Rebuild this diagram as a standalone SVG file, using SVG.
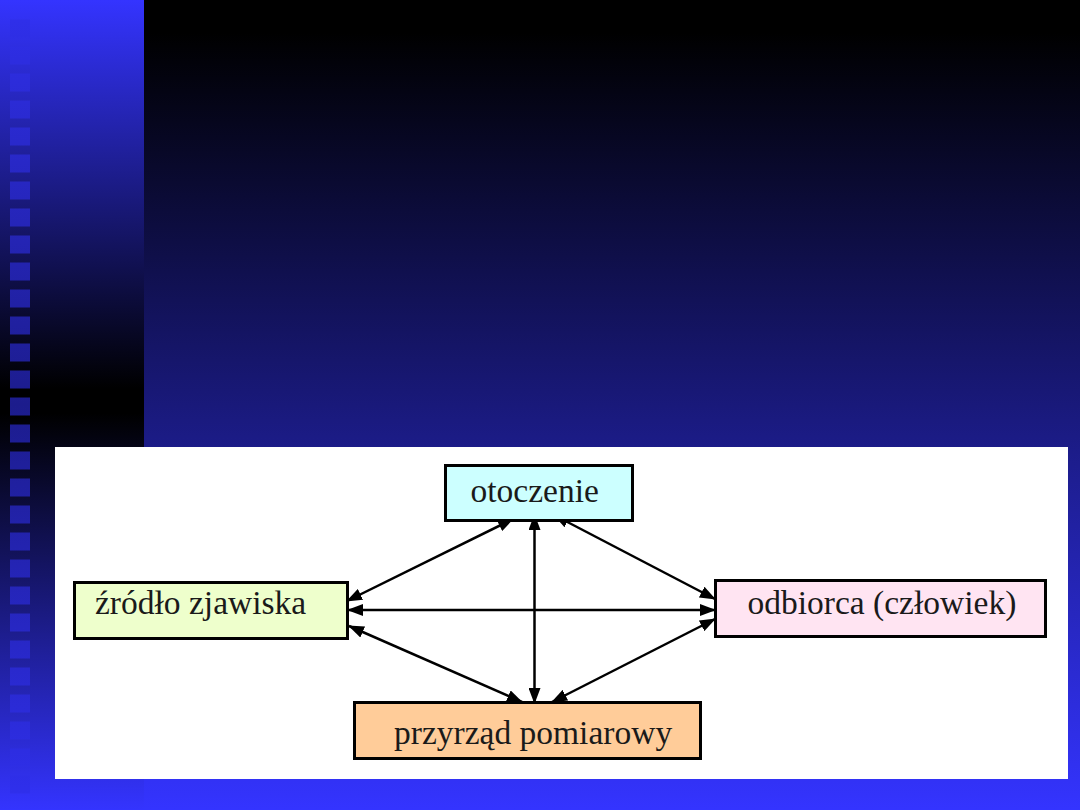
<svg xmlns="http://www.w3.org/2000/svg" width="1080" height="810" viewBox="0 0 1080 810">
  <defs>
    <linearGradient id="gMain" gradientUnits="userSpaceOnUse" x1="0" y1="0" x2="0" y2="810">
      <stop offset="0" stop-color="#000000"/>
      <stop offset="0.04" stop-color="#000000"/>
      <stop offset="1" stop-color="#3434ff"/>
    </linearGradient>
    <linearGradient id="gStrip" gradientUnits="userSpaceOnUse" x1="0" y1="0" x2="0" y2="810">
      <stop offset="0" stop-color="#3434ff"/>
      <stop offset="0.48" stop-color="#000000"/>
      <stop offset="0.51" stop-color="#000000"/>
      <stop offset="1" stop-color="#3434ff"/>
    </linearGradient>
    <linearGradient id="gSq" gradientUnits="userSpaceOnUse" x1="0" y1="0" x2="0" y2="810">
      <stop offset="0" stop-color="#3030ee"/>
      <stop offset="0.5" stop-color="#1c1c8c"/>
      <stop offset="1" stop-color="#3030f0"/>
    </linearGradient>
    <marker id="ah" markerUnits="userSpaceOnUse" viewBox="0 0 16 12" markerWidth="16" markerHeight="12" refX="15" refY="6" orient="auto-start-reverse">
      <path d="M0,0 L16,6 L0,12 z" fill="#000"/>
    </marker>
  </defs>
  <style>
    .box { stroke: #000; stroke-width: 3; }
    .sq { fill: url(#gSq); }
    .lbl { font-family: "Liberation Serif", "Times New Roman", serif; font-size: 33.5px; fill: #1a1a1a; }
    .con line { stroke: #000; stroke-width: 2.5; marker-start: url(#ah); marker-end: url(#ah); }
  </style>

  <!-- background -->
  <rect x="0" y="0" width="1080" height="810" fill="url(#gMain)"/>
  <rect x="0" y="0" width="144" height="810" fill="url(#gStrip)"/>
  <g id="squares">
    <rect class="sq" x="10" y="19.5" width="20" height="18"/>
    <rect class="sq" x="10" y="46.5" width="20" height="18"/>
    <rect class="sq" x="10" y="73.5" width="20" height="18"/>
    <rect class="sq" x="10" y="100.5" width="20" height="18"/>
    <rect class="sq" x="10" y="127.5" width="20" height="18"/>
    <rect class="sq" x="10" y="154.5" width="20" height="18"/>
    <rect class="sq" x="10" y="181.5" width="20" height="18"/>
    <rect class="sq" x="10" y="208.5" width="20" height="18"/>
    <rect class="sq" x="10" y="235.5" width="20" height="18"/>
    <rect class="sq" x="10" y="262.5" width="20" height="18"/>
    <rect class="sq" x="10" y="289.5" width="20" height="18"/>
    <rect class="sq" x="10" y="316.5" width="20" height="18"/>
    <rect class="sq" x="10" y="343.5" width="20" height="18"/>
    <rect class="sq" x="10" y="370.5" width="20" height="18"/>
    <rect class="sq" x="10" y="397.5" width="20" height="18"/>
    <rect class="sq" x="10" y="424.5" width="20" height="18"/>
    <rect class="sq" x="10" y="451.5" width="20" height="18"/>
    <rect class="sq" x="10" y="478.5" width="20" height="18"/>
    <rect class="sq" x="10" y="505.5" width="20" height="18"/>
    <rect class="sq" x="10" y="532.5" width="20" height="18"/>
    <rect class="sq" x="10" y="559.5" width="20" height="18"/>
    <rect class="sq" x="10" y="586.5" width="20" height="18"/>
    <rect class="sq" x="10" y="613.5" width="20" height="18"/>
    <rect class="sq" x="10" y="640.5" width="20" height="18"/>
    <rect class="sq" x="10" y="667.5" width="20" height="18"/>
    <rect class="sq" x="10" y="694.5" width="20" height="18"/>
    <rect class="sq" x="10" y="721.5" width="20" height="18"/>
    <rect class="sq" x="10" y="748.5" width="20" height="18"/>
    <rect class="sq" x="10" y="775.5" width="20" height="18"/>
  </g>

  <!-- white panel -->
  <rect x="55" y="447" width="1013" height="332" fill="#ffffff"/>

  <!-- connectors -->
  <g id="connectors" class="con">
    <line x1="347" y1="601" x2="513" y2="519"/>
    <line x1="348" y1="610" x2="715" y2="610"/>
    <line x1="349" y1="626" x2="522" y2="702"/>
    <line x1="534.5" y1="515" x2="534.5" y2="703"/>
    <line x1="554" y1="515" x2="715" y2="599"/>
    <line x1="552" y1="702" x2="715" y2="619"/>
  </g>

  <!-- nodes -->
  <g id="node-otoczenie">
    <rect class="box" x="445.5" y="465.5" width="187" height="55" fill="#ccffff"/>
    <text class="lbl" x="470.5" y="502">otoczenie</text>
  </g>
  <g id="node-zrodlo">
    <rect class="box" x="74.5" y="582.5" width="273" height="56" fill="#eeffcc"/>
    <text class="lbl" x="95" y="614">źródło zjawiska</text>
  </g>
  <g id="node-odbiorca">
    <rect class="box" x="715.5" y="580.5" width="330" height="56" fill="#ffe4f2"/>
    <text class="lbl" x="747.5" y="613.5">odbiorca (człowiek)</text>
  </g>
  <g id="node-przyrzad">
    <rect class="box" x="354.5" y="702.5" width="346" height="56" fill="#ffcc99"/>
    <text class="lbl" x="394" y="743.5">przyrząd pomiarowy</text>
  </g>
</svg>
